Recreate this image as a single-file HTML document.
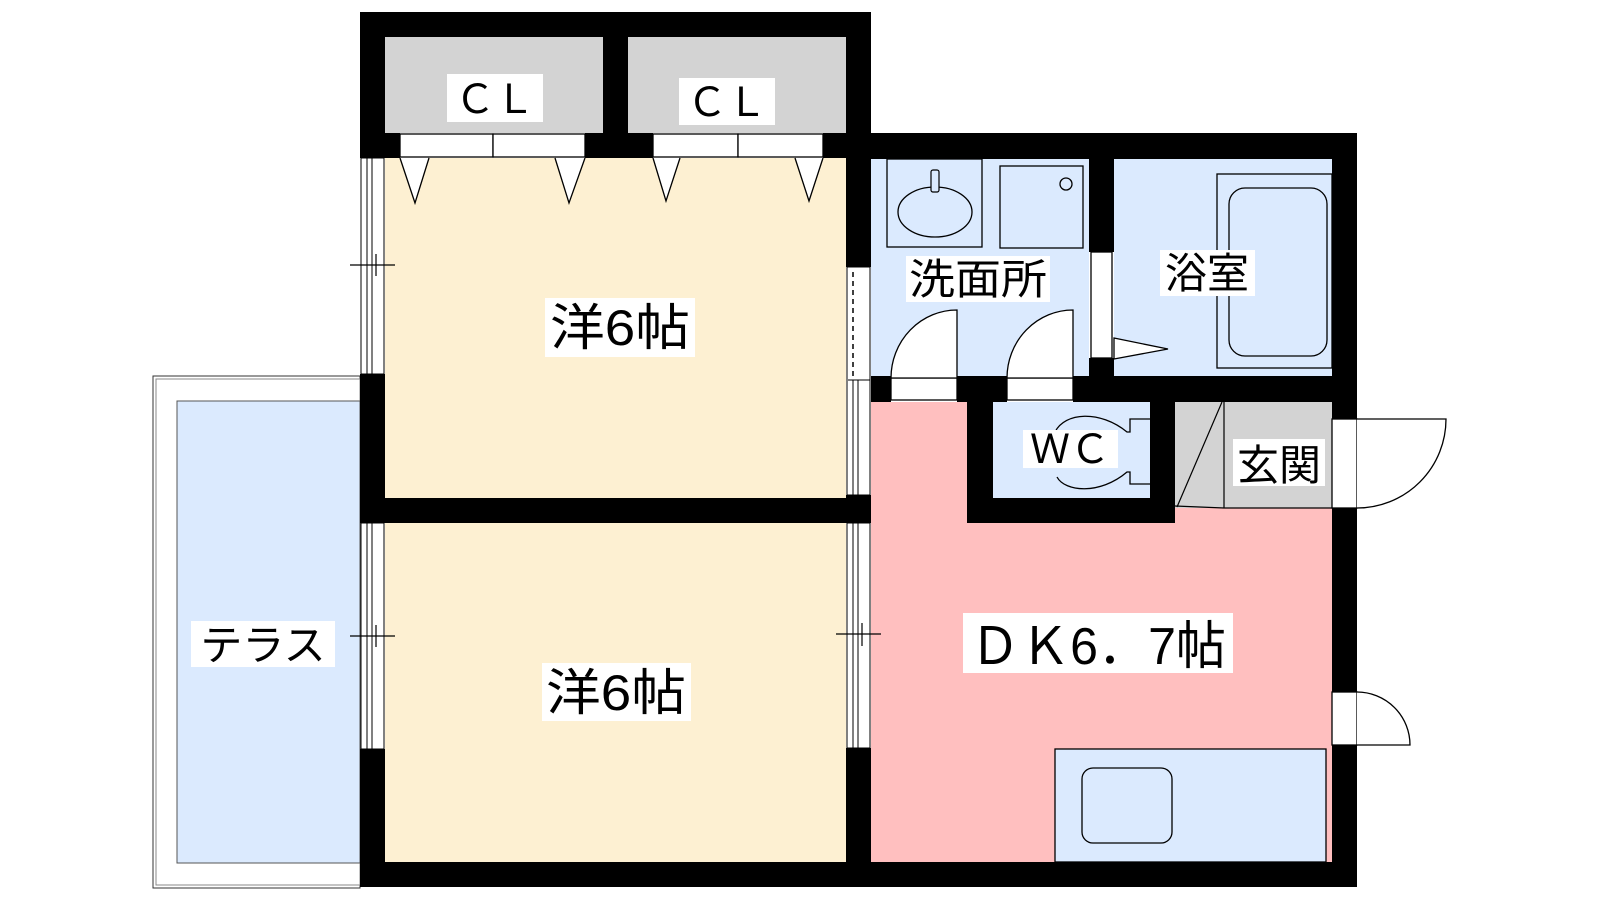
<!DOCTYPE html>
<html><head><meta charset="utf-8"><style>
html,body{margin:0;padding:0;background:#fff;width:1600px;height:900px;overflow:hidden}
svg{display:block}
text{font-family:"Liberation Sans","Noto Sans CJK JP",sans-serif;fill:#000}
</style></head><body>
<svg width="1600" height="900" viewBox="0 0 1600 900" xmlns="http://www.w3.org/2000/svg">
<!-- terrace -->
<rect x="153" y="376" width="207" height="512" fill="#fff" stroke="#333" stroke-width="1"/>
<rect x="156" y="379" width="204" height="506" fill="none" stroke="#888" stroke-width="1"/>
<rect x="177" y="401" width="183" height="462" fill="#dbeafe" stroke="#555" stroke-width="1"/>

<!-- room fills -->
<rect x="385" y="158" width="461" height="340" fill="#fdf0d2"/>
<rect x="385" y="523" width="461" height="339" fill="#fdf0d2"/>
<rect x="385" y="37" width="218" height="96" fill="#d3d3d3"/>
<rect x="628" y="37" width="218" height="96" fill="#d3d3d3"/>
<rect x="871" y="159" width="218" height="217" fill="#dbeafe"/>
<rect x="1114" y="159" width="218" height="217" fill="#dbeafe"/>
<rect x="993" y="402" width="157" height="96" fill="#dbeafe"/>
<rect x="1175" y="402" width="157" height="106" fill="#d3d3d3"/>
<path d="M871 402 H967 V523 H1175 V508 H1332 V862 H871 Z" fill="#ffbfbf"/>

<!-- walls -->
<g fill="#000">
<rect x="360" y="12" width="511" height="25"/>
<rect x="360" y="12" width="25" height="146"/>
<rect x="603" y="12" width="25" height="146"/>
<rect x="846" y="12" width="25" height="255"/>
<rect x="385" y="133" width="15" height="25"/>
<rect x="585" y="133" width="68" height="25"/>
<rect x="823" y="133" width="48" height="25"/>
<rect x="846" y="133" width="511" height="26"/>
<rect x="1332" y="133" width="25" height="286"/>
<rect x="1332" y="508" width="25" height="184"/>
<rect x="1332" y="745" width="25" height="142"/>
<rect x="1089" y="159" width="25" height="93"/>
<rect x="1089" y="358" width="25" height="20"/>
<rect x="871" y="376" width="20" height="26"/>
<rect x="957" y="376" width="50" height="26"/>
<rect x="1073" y="376" width="284" height="26"/>
<rect x="967" y="402" width="26" height="121"/>
<rect x="1150" y="402" width="25" height="121"/>
<rect x="967" y="498" width="208" height="25"/>
<rect x="360" y="374" width="25" height="149"/>
<rect x="360" y="498" width="511" height="25"/>
<rect x="846" y="495" width="25" height="28"/>
<rect x="360" y="749" width="25" height="138"/>
<rect x="846" y="748" width="25" height="139"/>
<rect x="360" y="862" width="997" height="25"/>
</g>

<!-- closet doors -->
<g fill="#fff" stroke="#000" stroke-width="1.3">
<rect x="400" y="134" width="93" height="23"/><rect x="493" y="134" width="92" height="23"/>
<rect x="653" y="134" width="85" height="23"/><rect x="738" y="134" width="85" height="23"/>
<path d="M400 158 L415 203 L429 158"/><path d="M555 158 L569 203 L585 158"/>
<path d="M653 158 L666 201 L680 158"/><path d="M795 158 L809 201 L823 158"/>
</g>

<!-- windows -->
<g fill="#fff" stroke="#000" stroke-width="1">
<rect x="361" y="158" width="23" height="216"/>
<line x1="367" y1="158" x2="367" y2="374"/><line x1="372" y1="158" x2="372" y2="374"/>
<rect x="361" y="523" width="23" height="226"/>
<line x1="367" y1="523" x2="367" y2="749"/><line x1="372" y1="523" x2="372" y2="749"/>
<rect x="847" y="267" width="23" height="228"/>
<line x1="853" y1="380" x2="853" y2="495"/><line x1="858" y1="380" x2="858" y2="495"/>
<line x1="848" y1="380" x2="870" y2="380"/>
<rect x="847" y="523" width="23" height="225"/>
<line x1="853" y1="523" x2="853" y2="748"/><line x1="858" y1="523" x2="858" y2="748"/>
</g>
<line x1="853" y1="272" x2="853" y2="378" stroke="#000" stroke-width="1.5" stroke-dasharray="5,4"/>
<g stroke="#000" stroke-width="1.2">
<line x1="350" y1="265" x2="395" y2="265"/><line x1="376" y1="254" x2="376" y2="276"/>
<line x1="350" y1="636" x2="395" y2="636"/><line x1="376" y1="625" x2="376" y2="647"/>
<line x1="836" y1="634" x2="881" y2="634"/><line x1="862" y1="623" x2="862" y2="646"/>
</g>

<!-- washroom fixtures -->
<g fill="none" stroke="#000" stroke-width="1.3">
<rect x="887" y="159" width="95" height="88"/>
<ellipse cx="935" cy="212" rx="37" ry="25"/>
<rect x="1000" y="166" width="83" height="82"/>
<circle cx="1066" cy="184" r="6"/>
<rect x="1217" y="174" width="115" height="194"/>
<rect x="1229" y="188" width="98" height="168" rx="16"/>
</g>
<rect x="931" y="170" width="8" height="22" fill="#dbeafe" stroke="#000" stroke-width="1.2" rx="2"/>

<!-- doors -->
<g fill="#fff" stroke="#000" stroke-width="1.3">
<rect x="1091" y="252" width="21" height="106"/>
<path d="M1114 338 L1168 349 L1114 359 Z"/>
<rect x="891" y="378" width="66" height="22"/>
<path d="M891 378 A66 68 0 0 1 957 310 V378 Z"/>
<rect x="1007" y="378" width="66" height="22"/>
<path d="M1007 378 A66 68 0 0 1 1073 310 V378 Z"/>
<rect x="1332" y="419" width="25" height="89"/>
<path d="M1357 419 H1446 A89 89 0 0 1 1357 508"/>
<rect x="1332" y="692" width="25" height="53"/>
<path d="M1357 692 A53 53 0 0 1 1410 745 H1357"/>
</g>

<!-- toilet -->
<g fill="none" stroke="#000" stroke-width="1.3">
<path d="M1150 419 H1130 V432 L1127 432 C1100 410 1065 412 1055 432"/>
<path d="M1150 484 H1130 V472 L1127 472 C1100 495 1065 492 1057 477"/>
</g>

<!-- genkan -->
<g stroke="#000" stroke-width="1.2" fill="none">
<line x1="1222" y1="402" x2="1177" y2="507"/>
<line x1="1224" y1="402" x2="1224" y2="508"/>
<path d="M1175 506 L1224 508 H1332"/>
</g>

<!-- kitchen -->
<rect x="1055" y="749" width="271" height="113" fill="#dbeafe" stroke="#000" stroke-width="1.3"/>
<rect x="1082" y="768" width="90" height="75" rx="11" fill="none" stroke="#000" stroke-width="1.3"/>

<!-- labels -->
<g fill="#fff">
<rect x="447" y="74" width="96" height="48"/>
<rect x="679" y="78" width="96" height="47"/>
<rect x="545" y="298" width="150" height="59"/>
<rect x="542" y="663" width="149" height="58"/>
<rect x="191" y="621" width="144" height="46"/>
<rect x="906" y="256" width="144" height="46"/>
<rect x="1160" y="250" width="95" height="46"/>
<rect x="1023" y="430" width="95" height="38"/>
<rect x="1233" y="439" width="92" height="47"/>
<rect x="963" y="613" width="270" height="60"/>
</g>
<text x="495" y="113" font-size="40" text-anchor="middle">ＣＬ</text>
<text x="727" y="116" font-size="40" text-anchor="middle">ＣＬ</text>
<text x="620" y="345" font-size="50" text-anchor="middle" textLength="140" lengthAdjust="spacingAndGlyphs">洋6帖</text>
<text x="616" y="710" font-size="50" text-anchor="middle" textLength="140" lengthAdjust="spacingAndGlyphs">洋6帖</text>
<text x="263" y="660" font-size="42" text-anchor="middle">テラス</text>
<text x="978" y="294" font-size="42" text-anchor="middle" textLength="138" lengthAdjust="spacingAndGlyphs">洗面所</text>
<text x="1207" y="288" font-size="42" text-anchor="middle">浴室</text>
<text x="1070" y="463" font-size="40" text-anchor="middle">ＷＣ</text>
<text x="1279" y="480" font-size="42" text-anchor="middle">玄関</text>
<text x="1098" y="664" font-size="52" text-anchor="middle" textLength="256" lengthAdjust="spacingAndGlyphs">ＤＫ6．7帖</text>
</svg>
</body></html>
